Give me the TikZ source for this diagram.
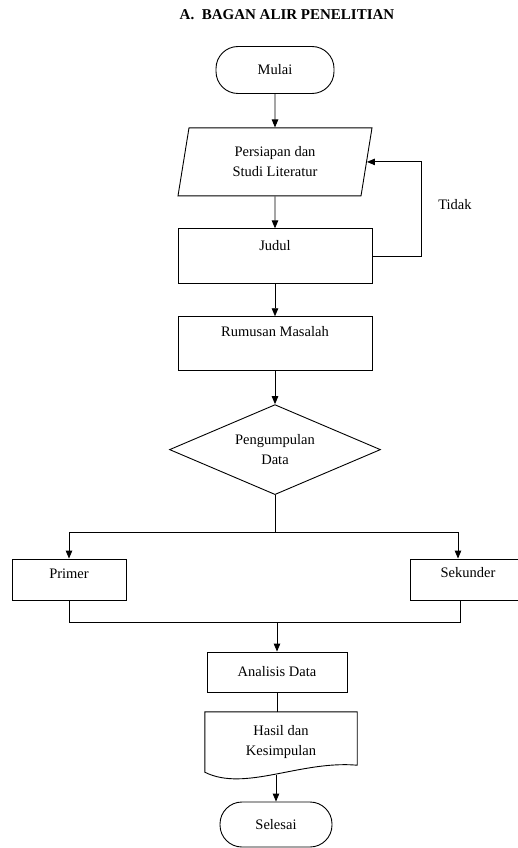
\documentclass[tikz,border=0pt]{standalone}
\usepackage{fontspec}
\setmainfont{Liberation Serif}
\usepackage{tikz}
\usetikzlibrary{arrows.meta,positioning,shapes.geometric}
\tikzset{
  >={Triangle[length=8pt,width=6.5pt]},
  line/.style={draw=black,line width=0.9pt},
  flow/.style={->,line},
  box/.style={rectangle,line,align=center,inner ysep=0pt,
    font=\fontsize{14.5}{20}\selectfont},
  termbox/.style={box,rounded corners=22pt},
  iobox/.style={box,trapezium,trapezium left angle=70,trapezium right angle=110,
    trapezium stretches body,inner xsep=0pt},
  decbox/.style={box,diamond,aspect=2.3,inner sep=0pt},
  docbox/.style={rectangle,align=center,inner sep=0pt,
    font=\fontsize{14.5}{20}\selectfont},
  lbl/.style={font=\fontsize{14.5}{20}\selectfont}
}
\begin{document}
\begin{tikzpicture}[x=1pt,y=1pt,node distance=32pt]
  \useasboundingbox (0,0) rectangle (518,-848);
  \node[font=\fontsize{15}{18}\bfseries\selectfont] (title) at (287,-15) {A.\ \ BAGAN ALIR PENELITIAN};
  \node[termbox,minimum width=118pt,minimum height=47pt] (mulai) at (275,-70) {Mulai};
  \node[iobox,below=33.5pt of mulai,minimum width=194pt,minimum height=68pt] (persiapan) {Persiapan dan\\Studi Literatur};
  \node[box,below=of persiapan,minimum width=194pt,minimum height=55pt,
    text height=22pt,text depth=33pt] (judul) {Judul};
  \node[box,below=of judul,minimum width=194pt,minimum height=54pt,
    text height=20pt,text depth=34pt] (rumusan) {Rumusan Masalah};
  \node[decbox,below=33pt of rumusan,minimum width=211pt,minimum height=90pt] (data) {Pengumpulan\\Data};
  \node[box,minimum width=114pt,minimum height=41pt,
    text height=19pt,text depth=22pt] (primer) at (69,-579.5) {Primer};
  \node[box,minimum width=116pt,minimum height=41pt,
    text height=18pt,text depth=23pt] (sekunder) at (468,-579.5) {Sekunder};
  \node[box,minimum width=140pt,minimum height=40pt] (analisis) at (277,-672) {Analisis Data};
  \node[docbox,minimum width=152pt,minimum height=60pt] (hasil) at (281,-742) {Hasil dan\\Kesimpulan};
  \node[termbox,minimum width=112pt,minimum height=45pt] (selesai) at (276,-824.5) {Selesai};
  \node[lbl] (tidak) at (455,-205) {Tidak};
  % document outline
  \draw[line] (hasil.north west) -- (hasil.north east) -- ([yshift=7pt]hasil.south east)
    .. controls ([xshift=-57pt,yshift=12pt]hasil.south east) and ([xshift=40pt,yshift=-20pt]hasil.south west)
    .. (hasil.south west) -- cycle;
  \draw[flow] (mulai) -- (persiapan);
  \draw[flow] (persiapan) -- (judul);
  \draw[flow] (judul.east) -- ++(49,0) |- (persiapan.east);
  \draw[flow] (judul) -- (rumusan);
  \draw[flow] (rumusan) -- (data);
  \draw[line] (data.south) -- ++(0,-37) coordinate (fork);
  \draw[flow] (fork) -| (primer.north);
  \draw[flow] (fork) -| ([xshift=-10pt]sekunder.north);
  \draw[line] (primer.south) -- ++(0,-22) coordinate (pj) -| ([xshift=-8pt]sekunder.south);
  \draw[flow] (pj -| analisis.north) -- (analisis.north);
  \draw[line] (analisis.south) -- (analisis.south |- hasil.north);
  \draw[flow] (hasil.south -| selesai.north) ++(0,-3) -- (selesai.north);
\end{tikzpicture}
\end{document}
